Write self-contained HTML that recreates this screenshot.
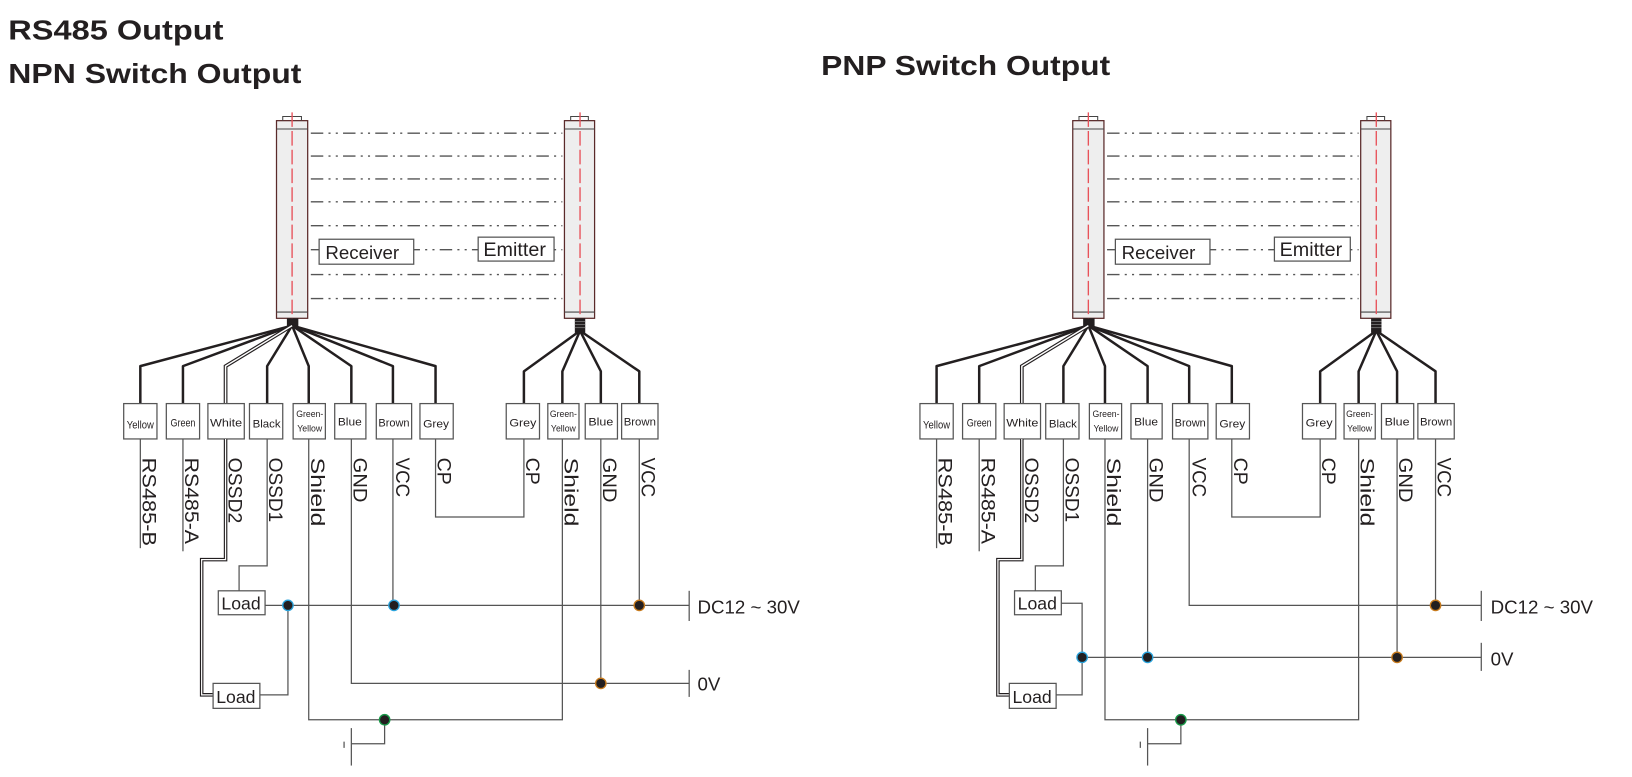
<!DOCTYPE html>
<html><head><meta charset="utf-8"><style>
html,body{margin:0;padding:0;background:#fff;}
svg{display:block;}
text{font-family:"Liberation Sans",sans-serif;fill:#231f20;}
</style></head><body>
<svg width="1632" height="777" viewBox="0 0 1570 747" preserveAspectRatio="none" xmlns="http://www.w3.org/2000/svg">
<defs>
<g id="diag">
  <g stroke="#5a2a2a" stroke-width="1.2" fill="#eeeeee">
    <rect x="266" y="116" width="30" height="190"/>
    <rect x="543" y="116" width="29" height="190"/>
  </g>
  <g stroke="#444" stroke-width="1" fill="none">
    <path d="M272 116 V112 H290 V116"/><path d="M549 116 V112 H566 V116"/>
    <line x1="266" y1="124" x2="296" y2="124"/><line x1="543" y1="124" x2="572" y2="124"/>
    <line x1="266" y1="300" x2="296" y2="300"/><line x1="543" y1="300" x2="572" y2="300"/>
  </g>
  <g stroke="#e8525a" stroke-width="1.3" stroke-dasharray="14 4">
    <line x1="281" y1="108" x2="281" y2="312"/><line x1="558" y1="108" x2="558" y2="305"/>
  </g>
  <rect x="276" y="306" width="11" height="8" fill="#231f20"/>
  <rect x="553" y="306" width="10" height="14" fill="#231f20"/>
  <g stroke="#777" stroke-width="0.8"><line x1="553" y1="309" x2="563" y2="309"/><line x1="553" y1="312" x2="563" y2="312"/><line x1="553" y1="315" x2="563" y2="315"/></g>
  <g stroke="#555" stroke-width="1.3" stroke-dasharray="12 5 2 5 2 5">
    <line x1="299" y1="128" x2="541" y2="128"/><line x1="299" y1="150" x2="541" y2="150"/>
    <line x1="299" y1="172" x2="541" y2="172"/><line x1="299" y1="194" x2="541" y2="194"/>
    <line x1="299" y1="217" x2="541" y2="217"/><line x1="299" y1="240" x2="541" y2="240"/>
    <line x1="299" y1="264" x2="541" y2="264"/><line x1="299" y1="287" x2="541" y2="287"/>
  </g>
  <rect x="307" y="230" width="91" height="24" fill="#fff" stroke="#555" stroke-width="1.2"/>
  <text x="313" y="249" font-size="18">Receiver</text>
  <rect x="460" y="228" width="73" height="23" fill="#fff" stroke="#555" stroke-width="1.2"/>
  <text x="465" y="246" font-size="19">Emitter</text>
  <g stroke="#231f20" stroke-width="2.4" fill="none" stroke-linejoin="round">
    <path d="M281 313 L135 352 V388"/>
    <path d="M281 313 L176 352 V388"/>
    <path d="M281 313 L257 352 V388"/>
    <path d="M281 313 L297 352 V388"/>
    <path d="M281 313 L338 352 V388"/>
    <path d="M281 313 L378 352 V388"/>
    <path d="M281 313 L419 352 V388"/>
    <path d="M558 318 L504 357 V388"/>
    <path d="M558 318 L541 357 V388"/>
    <path d="M558 318 L578 357 V388"/>
    <path d="M558 318 L615 357 V388"/>
  </g>
  <path d="M281 313 L217 352 V388" stroke="#231f20" stroke-width="3.6" fill="none"/>
  <path d="M281 313 L217 352 V388" stroke="#fff" stroke-width="1.4" fill="none"/>
  <g fill="#fff" stroke="#555" stroke-width="1.2">
    <rect x="119" y="388" width="32" height="34"/><rect x="160" y="388" width="32" height="34"/>
    <rect x="200" y="388" width="35" height="34"/><rect x="240" y="388" width="32" height="34"/>
    <rect x="282" y="388" width="31" height="34"/><rect x="322" y="388" width="30" height="34"/>
    <rect x="362" y="388" width="34" height="34"/><rect x="404" y="388" width="32" height="34"/>
    <rect x="487" y="388" width="32" height="34"/><rect x="527" y="388" width="30" height="34"/>
    <rect x="563" y="388" width="31" height="34"/><rect x="598" y="388" width="35" height="34"/>
  </g>
  <g font-size="10.5">
    <text x="122" y="412" textLength="26" lengthAdjust="spacingAndGlyphs">Yellow</text>
    <text x="164" y="410" textLength="24" lengthAdjust="spacingAndGlyphs">Green</text>
    <text x="202" y="410" textLength="31" lengthAdjust="spacingAndGlyphs">White</text>
    <text x="243" y="411" textLength="27" lengthAdjust="spacingAndGlyphs">Black</text>
    <text x="285" y="401" font-size="9" textLength="26" lengthAdjust="spacingAndGlyphs">Green-</text>
    <text x="286" y="415" font-size="9" textLength="24" lengthAdjust="spacingAndGlyphs">Yellow</text>
    <text x="325" y="409" textLength="23" lengthAdjust="spacingAndGlyphs">Blue</text>
    <text x="364" y="410" textLength="30" lengthAdjust="spacingAndGlyphs">Brown</text>
    <text x="407" y="411" textLength="25" lengthAdjust="spacingAndGlyphs">Grey</text>
    <text x="490" y="410" textLength="26" lengthAdjust="spacingAndGlyphs">Grey</text>
    <text x="529" y="401" font-size="9" textLength="26" lengthAdjust="spacingAndGlyphs">Green-</text>
    <text x="530" y="415" font-size="9" textLength="24" lengthAdjust="spacingAndGlyphs">Yellow</text>
    <text x="566" y="409" textLength="24" lengthAdjust="spacingAndGlyphs">Blue</text>
    <text x="600" y="409" textLength="31" lengthAdjust="spacingAndGlyphs">Brown</text>
  </g>
  <g font-size="19">
    <text transform="translate(137,440) rotate(90)" textLength="85" lengthAdjust="spacingAndGlyphs">RS485-B</text>
    <text transform="translate(178,440) rotate(90)" textLength="83" lengthAdjust="spacingAndGlyphs">RS485-A</text>
    <text transform="translate(220,440) rotate(90)" textLength="63" lengthAdjust="spacingAndGlyphs">OSSD2</text>
    <text transform="translate(259,440) rotate(90)" textLength="62" lengthAdjust="spacingAndGlyphs">OSSD1</text>
    <text transform="translate(299,440) rotate(90)" textLength="66" lengthAdjust="spacingAndGlyphs">Shield</text>
    <text transform="translate(340,440) rotate(90)" textLength="43" lengthAdjust="spacingAndGlyphs">GND</text>
    <text transform="translate(381,440) rotate(90)" textLength="38" lengthAdjust="spacingAndGlyphs">VCC</text>
    <text transform="translate(421,440) rotate(90)" textLength="26" lengthAdjust="spacingAndGlyphs">CP</text>
    <text transform="translate(506,440) rotate(90)" textLength="26" lengthAdjust="spacingAndGlyphs">CP</text>
    <text transform="translate(543,440) rotate(90)" textLength="66" lengthAdjust="spacingAndGlyphs">Shield</text>
    <text transform="translate(580,440) rotate(90)" textLength="43" lengthAdjust="spacingAndGlyphs">GND</text>
    <text transform="translate(617,440) rotate(90)" textLength="38" lengthAdjust="spacingAndGlyphs">VCC</text>
  </g>
  <g stroke="#555" stroke-width="1.2" fill="none">
    <line x1="135" y1="422" x2="135" y2="527"/>
    <line x1="176" y1="422" x2="176" y2="530"/>
    <path d="M257 422 V544 H230 V568"/>
    <path d="M419 422 V497 H504 V422"/>
    <path d="M297 422 V692 H541 V422"/>
    <path d="M370 692 V715 H338"/>
  </g>
  <path d="M217 422 V538 H194 V668 H205" stroke="#231f20" stroke-width="3.4" fill="none"/>
  <path d="M217 422 V538 H194 V668 H205" stroke="#fff" stroke-width="1.2" fill="none"/>
  <g stroke="#555" stroke-width="1.2">
    <line x1="338" y1="700" x2="338" y2="736"/><line x1="331" y1="713" x2="331" y2="719"/>
  </g>
  <rect x="210" y="568" width="45" height="23" fill="#fff" stroke="#555" stroke-width="1.2"/>
  <text x="213" y="586" font-size="17">Load</text>
  <rect x="205" y="657" width="45" height="24" fill="#fff" stroke="#555" stroke-width="1.2"/>
  <text x="208" y="676" font-size="17">Load</text>
  <circle cx="370" cy="692" r="5" fill="#231f20" stroke="#1a9a4a" stroke-width="1.3"/>
</g>
</defs>

<text x="8" y="38" font-size="27" font-weight="bold" textLength="207" lengthAdjust="spacingAndGlyphs">RS485 Output</text>
<text x="8" y="80" font-size="27" font-weight="bold" textLength="282" lengthAdjust="spacingAndGlyphs">NPN Switch Output</text>
<text x="790" y="72" font-size="27" font-weight="bold" textLength="278" lengthAdjust="spacingAndGlyphs">PNP Switch Output</text>

<use href="#diag"/>
<g stroke="#555" stroke-width="1.2" fill="none">
  <line x1="255" y1="582" x2="663" y2="582"/>
  <path d="M277 582 V668 H250"/>
  <line x1="378" y1="422" x2="378" y2="582"/>
  <line x1="615" y1="422" x2="615" y2="582"/>
  <path d="M338 422 V657 H663"/>
  <line x1="578" y1="422" x2="578" y2="657"/>
  <line x1="663" y1="568" x2="663" y2="597"/>
  <line x1="663" y1="644" x2="663" y2="670"/>
</g>
<circle cx="277" cy="582" r="5" fill="#231f20" stroke="#2aa3dc" stroke-width="1.3"/>
<circle cx="379" cy="582" r="5" fill="#231f20" stroke="#2aa3dc" stroke-width="1.3"/>
<circle cx="615" cy="582" r="5" fill="#231f20" stroke="#c77a1c" stroke-width="1.3"/>
<circle cx="578" cy="657" r="5" fill="#231f20" stroke="#c77a1c" stroke-width="1.3"/>
<text x="671" y="590" font-size="18">DC12 ~ 30V</text>
<text x="671" y="664" font-size="18">0V</text>

<g transform="translate(766,0)">
<use href="#diag"/>
<g stroke="#555" stroke-width="1.2" fill="none">
  <path d="M255 580 H275 V668 H250"/>
  <line x1="275" y1="632" x2="659" y2="632"/>
  <line x1="338" y1="422" x2="338" y2="632"/>
  <line x1="578" y1="422" x2="578" y2="632"/>
  <path d="M378 422 V582 H659"/>
  <line x1="615" y1="422" x2="615" y2="582"/>
  <line x1="659" y1="568" x2="659" y2="597"/>
  <line x1="659" y1="618" x2="659" y2="645"/>
</g>
<circle cx="275" cy="632" r="5" fill="#231f20" stroke="#2aa3dc" stroke-width="1.3"/>
<circle cx="338" cy="632" r="5" fill="#231f20" stroke="#2aa3dc" stroke-width="1.3"/>
<circle cx="578" cy="632" r="5" fill="#231f20" stroke="#c77a1c" stroke-width="1.3"/>
<circle cx="615" cy="582" r="5" fill="#231f20" stroke="#c77a1c" stroke-width="1.3"/>
<text x="668" y="590" font-size="18">DC12 ~ 30V</text>
<text x="668" y="640" font-size="18">0V</text>
</g>
</svg>
</body></html>
